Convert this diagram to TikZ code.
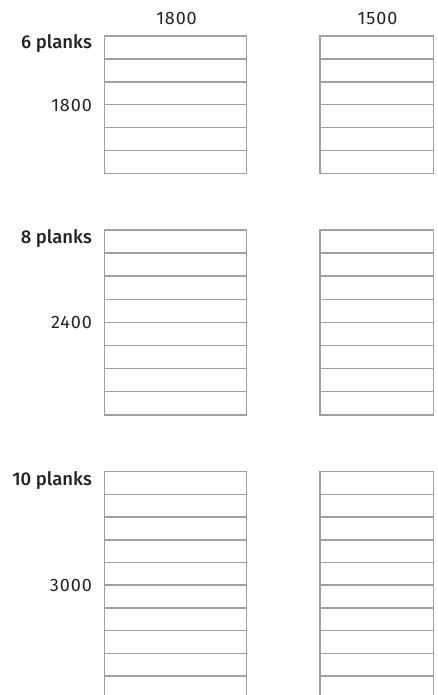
\documentclass[tikz,border=0pt]{standalone}
\usepackage{fontspec}
\setmainfont{Fira Sans}
\newfontfamily\medfont{Fira Sans}[UprightFont=* Medium]
\newfontfamily\numfont{Fira Sans}[LetterSpace=5]
\definecolor{linegray}{HTML}{A0A0A0}
\definecolor{textgray}{HTML}{222222}
\tikzset{
  plankline/.style={draw=linegray, line width=1.5pt},
  numlbl/.style={font=\numfont\fontsize{18}{18}\selectfont, text=textgray, inner sep=0pt},
  planklbl/.style={font=\medfont\fontsize{18.5}{18.5}\selectfont, text=textgray, inner sep=0pt}
}
\newcommand\plankstack[6]{% name, left, right, top, rows, rowh
  \draw[plankline] (#2,#4) rectangle (#3,#4+#5*#6);
  \foreach \k in {1,...,#5} {
    \draw[plankline] (#2,#4+\k*#6) -- (#3,#4+\k*#6);
  }
  \coordinate (#1-nw) at (#2,#4);
  \coordinate (#1-ne) at (#3,#4);
}
\begin{document}
\begin{tikzpicture}[x=1pt,y=-1pt]
\useasboundingbox (0,0) rectangle (438,695);
\clip (0,0) rectangle (438,695);
% column headers
\node[numlbl, anchor=base] (hdrL) at (176.5,25) {1800};
\node[numlbl, anchor=base] (hdrR) at (377.5,25) {1500};
% group 1
\plankstack{a1}{104.7}{246.7}{36}{6}{22.9}
\plankstack{a2}{320}{433.3}{36}{6}{22.9}
\node[planklbl, anchor=base east] (p6) at (92,49) {6 planks};
\node[numlbl, anchor=base east] (l1800) at (92,111.2) {1800};
% group 2
\plankstack{b1}{104.7}{246.7}{230}{8}{23.1}
\plankstack{b2}{320}{433.3}{230}{8}{23.1}
\node[planklbl, anchor=base east] (p8) at (92,243) {8 planks};
\node[numlbl, anchor=base east] (l2400) at (92,328.6) {2400};
% group 3
\plankstack{c1}{104.7}{246.7}{471.7}{10}{22.7}
\plankstack{c2}{320}{433.3}{471.7}{10}{22.7}
\node[planklbl, anchor=base east] (p10) at (92,485.2) {10 planks};
\node[numlbl, anchor=base east] (l3000) at (92,591.6) {3000};
\end{tikzpicture}
\end{document}
